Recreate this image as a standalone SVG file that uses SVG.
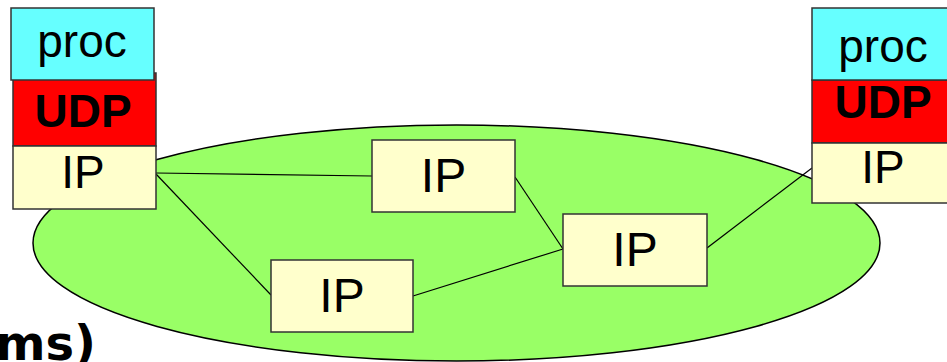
<svg xmlns="http://www.w3.org/2000/svg" width="947" height="362" viewBox="0 0 947 362">
<style>
.box{stroke:#333;stroke-width:1.5}
.proc{fill:#66FFFF}
.udp{fill:#FF0000}
.ip{fill:#FFFFCC}
.t{font-family:"Liberation Sans",Arial,sans-serif;font-size:46px;fill:#000;text-anchor:middle}
.tb{font-weight:bold}
.big{font-size:48px}
.conn line{stroke:#000;stroke-width:1.2}
</style>
<rect width="947" height="362" fill="#fff"/>
<g id="network">
<ellipse cx="456.5" cy="243" rx="423.5" ry="118" fill="#99FF66" stroke="#000" stroke-width="1.5"/>
</g>
<g id="connectors" class="conn">
<line x1="156" y1="173" x2="372" y2="176"/>
<line x1="156" y1="174" x2="271" y2="295"/>
<line x1="515" y1="177" x2="563" y2="249"/>
<line x1="413" y1="296" x2="563" y2="249"/>
<line x1="707" y1="248" x2="812" y2="168"/>
</g>
<g id="left-stack">
<g id="left-udp"><rect class="box udp" x="13" y="73" width="143" height="73"/><text class="t tb" x="83" y="127">UDP</text></g>
<g id="left-proc"><rect class="box proc" x="11" y="8" width="143" height="72"/><text class="t" x="82" y="57">proc</text></g>
<g id="left-ip"><rect class="box ip" x="13" y="146" width="143" height="63"/><text class="t" x="83" y="188">IP</text></g>
</g>
<g id="right-stack">
<g id="right-udp"><rect class="box udp" x="812" y="80" width="150" height="63"/><text class="t tb" x="883" y="118">UDP</text></g>
<g id="right-proc"><rect class="box proc" x="812" y="8" width="150" height="72"/><text class="t" x="883" y="62">proc</text></g>
<g id="right-ip"><rect class="box ip" x="812" y="143" width="150" height="60"/><text class="t" x="883" y="183">IP</text></g>
</g>
<g id="router1"><rect class="box ip" x="372" y="140" width="143" height="72"/><text class="t big" x="443.5" y="192">IP</text></g>
<g id="router2"><rect class="box ip" x="563" y="214" width="144" height="72"/><text class="t big" x="635" y="266">IP</text></g>
<g id="router3"><rect class="box ip" x="271" y="260" width="142" height="72"/><text class="t big" x="342" y="312">IP</text></g>
<text x="96" y="360" font-family="'DejaVu Sans',sans-serif" font-weight="bold" font-size="48" text-anchor="end">ms)</text>
</svg>
